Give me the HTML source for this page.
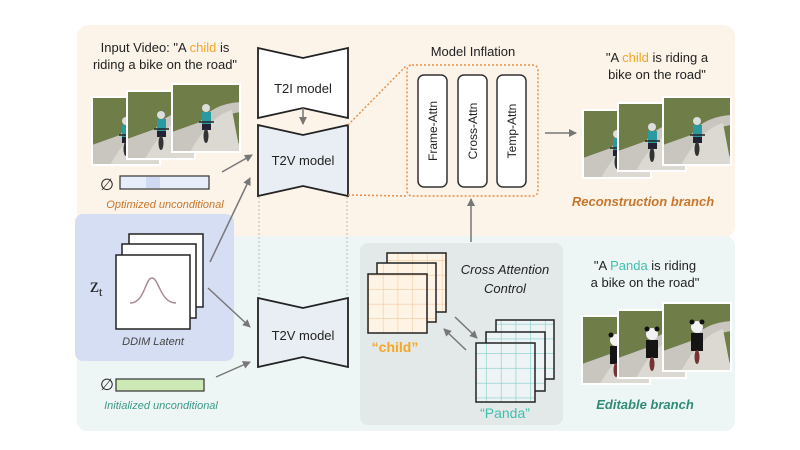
<!DOCTYPE html>
<html><head><meta charset="utf-8"><style>
html,body{margin:0;padding:0;background:#fff;}
svg{display:block;font-family:"Liberation Sans",sans-serif;}
</style></head><body>
<svg width="800" height="450" viewBox="0 0 800 450" xmlns="http://www.w3.org/2000/svg">
<defs>
<marker id="ar" markerWidth="8" markerHeight="8" refX="7" refY="4" orient="auto" markerUnits="userSpaceOnUse">
<path d="M0,0 L8,4 L0,8 Z" fill="#777"/></marker>
<g id="kid">
<rect x="0" y="0" width="68" height="68" fill="#c9c6bf"/>
<path d="M0,0 H68 V18 Q40,20 28,38 L0,48 Z" fill="#6f7d48"/>
<path d="M58,30 L68,28 V60 L60,55 Z" fill="#6f7d48"/>
<path d="M18,68 Q38,32 60,26 L68,68 Z" fill="#dcd9d3"/>
<circle cx="34" cy="24" r="4" fill="#ddd"/>
<rect x="30" y="28" width="9" height="12" fill="#2a9aa0"/>
<rect x="30" y="40" width="9" height="6" fill="#223"/>
<ellipse cx="34" cy="52" rx="2.5" ry="7" fill="#333"/>
<line x1="27" y1="38" x2="42" y2="38" stroke="#222" stroke-width="1.5"/>
<rect x="0" y="0" width="68" height="68" fill="none" stroke="#fff" stroke-width="2"/>
</g>
<g id="panda">
<rect x="0" y="0" width="68" height="68" fill="#c9c6bf"/>
<path d="M0,0 H68 V18 Q40,20 28,38 L0,48 Z" fill="#6f7d48"/>
<path d="M58,30 L68,28 V60 L60,55 Z" fill="#6f7d48"/>
<path d="M18,68 Q38,32 60,26 L68,68 Z" fill="#dcd9d3"/>
<circle cx="34" cy="24" r="6" fill="#f2f2f2"/>
<circle cx="29" cy="19" r="2.5" fill="#111"/><circle cx="39" cy="19" r="2.5" fill="#111"/>
<rect x="28" y="30" width="12" height="18" fill="#151515"/>
<ellipse cx="34" cy="54" rx="2.5" ry="7" fill="#733"/>
<rect x="0" y="0" width="68" height="68" fill="none" stroke="#fff" stroke-width="2"/>
</g>
<pattern id="gc" width="14.75" height="14.5" patternUnits="userSpaceOnUse"><rect width="14.75" height="14.5" fill="#fdf4e6"/><path d="M14.75,0 V14.5 M0,14.5 H14.75" stroke="#f7c9a0" stroke-width="1.2"/></pattern>
<pattern id="gp" width="14.75" height="14.75" patternUnits="userSpaceOnUse"><rect width="14.75" height="14.75" fill="#eef3f6"/><path d="M14.75,0 V14.75 M0,14.75 H14.75" stroke="#7fcfc8" stroke-width="1.2"/></pattern>
</defs>

<rect x="77" y="25" width="658" height="213" rx="12" fill="#fcf3e9"/>
<rect x="77" y="236" width="658" height="195" rx="10" fill="#eef5f5"/>
<rect x="75" y="214" width="159" height="147" rx="8" fill="#d6def3"/>
<rect x="360" y="243" width="203" height="182" rx="8" fill="#e3e8e8"/>

<text x="165" y="52" font-size="13" text-anchor="middle" fill="#222">Input Video: "A <tspan fill="#f5a623">child</tspan> is</text>
<text x="165" y="69" font-size="13" text-anchor="middle" fill="#222">riding a bike on the road"</text>

<use href="#kid" x="92" y="97"/>
<use href="#kid" x="127" y="91"/>
<use href="#kid" x="172" y="84"/>

<text x="100" y="190" font-size="16" fill="#222">∅</text>
<rect x="120" y="176" width="89" height="13" fill="#e8eef9" stroke="#333" stroke-width="1.2"/>
<rect x="146" y="177" width="14" height="11" fill="#cfdaf2"/>
<text x="165" y="208" font-size="11" font-style="italic" text-anchor="middle" fill="#c9762c">Optimized unconditional</text>

<rect x="129" y="234" width="74" height="73" fill="#fff" stroke="#222" stroke-width="1.5"/>
<rect x="122" y="244" width="74" height="74" fill="#fff" stroke="#222" stroke-width="1.5"/>
<rect x="116" y="255" width="74" height="74" fill="#fff" stroke="#222" stroke-width="1.5"/>
<path d="M130,303 C145,303 145,278 152,278 C159,278 160,303 176,303" fill="none" stroke="#a88a95" stroke-width="1.5"/>
<text x="90" y="292" font-size="20" font-family="Liberation Serif,serif" fill="#222">z<tspan font-size="13" dy="4">t</tspan></text>
<text x="153" y="345" font-size="11" font-style="italic" text-anchor="middle" fill="#444">DDIM Latent</text>

<text x="100" y="390" font-size="16" fill="#222">∅</text>
<rect x="116" y="379" width="88" height="12" fill="#cde9b5" stroke="#333" stroke-width="1.2"/>
<text x="161" y="409" font-size="11" font-style="italic" text-anchor="middle" fill="#3a9a88">Initialized unconditional</text>

<path d="M258,48 L303,58 L348,48 L348,118 L303,108 L258,118 Z" fill="#fff" stroke="#222" stroke-width="1.8"/>
<text x="303" y="93" font-size="13" text-anchor="middle" fill="#222">T2I model</text>
<line x1="303" y1="108" x2="303" y2="124" stroke="#777" stroke-width="1.5" marker-end="url(#ar)"/>
<path d="M258,125 L303,135 L348,125 L348,196 L303,186 L258,196 Z" fill="#e9eef5" stroke="#222" stroke-width="1.8"/>
<text x="303" y="165" font-size="13" text-anchor="middle" fill="#222">T2V model</text>
<path d="M258,298 L303,308 L348,298 L348,367 L303,357 L258,367 Z" fill="#e9eef5" stroke="#222" stroke-width="1.8"/>
<text x="303" y="340" font-size="13" text-anchor="middle" fill="#222">T2V model</text>
<line x1="259" y1="197" x2="259" y2="297" stroke="#bbb" stroke-width="1" stroke-dasharray="2,2"/>
<line x1="347" y1="197" x2="347" y2="297" stroke="#bbb" stroke-width="1" stroke-dasharray="2,2"/>

<line x1="222" y1="172" x2="252" y2="155" stroke="#777" stroke-width="1.5" marker-end="url(#ar)"/>
<line x1="210" y1="262" x2="250" y2="178" stroke="#777" stroke-width="1.5" marker-end="url(#ar)"/>
<line x1="208" y1="288" x2="250" y2="327" stroke="#777" stroke-width="1.5" marker-end="url(#ar)"/>
<line x1="216" y1="377" x2="250" y2="362" stroke="#777" stroke-width="1.5" marker-end="url(#ar)"/>

<line x1="348" y1="125" x2="407" y2="65" stroke="#e8914a" stroke-width="1.5" stroke-dasharray="2,2"/>
<line x1="348" y1="195" x2="407" y2="196" stroke="#e8914a" stroke-width="1.5" stroke-dasharray="2,2"/>
<rect x="407" y="65" width="131" height="131" rx="5" fill="none" stroke="#e8914a" stroke-width="1.5" stroke-dasharray="2,2"/>
<text x="473" y="56" font-size="13" text-anchor="middle" fill="#222">Model Inflation</text>
<rect x="418" y="75" width="29" height="112" rx="6" fill="#fff" stroke="#333" stroke-width="1.5"/>
<rect x="458" y="75" width="29" height="112" rx="6" fill="#fff" stroke="#333" stroke-width="1.5"/>
<rect x="497" y="75" width="29" height="112" rx="6" fill="#fff" stroke="#333" stroke-width="1.5"/>
<text transform="translate(437,131) rotate(-90)" font-size="12" text-anchor="middle" fill="#222">Frame-Attn</text>
<text transform="translate(477,131) rotate(-90)" font-size="12" text-anchor="middle" fill="#222">Cross-Attn</text>
<text transform="translate(516,131) rotate(-90)" font-size="12" text-anchor="middle" fill="#222">Temp-Attn</text>
<line x1="545" y1="133" x2="576" y2="133" stroke="#777" stroke-width="1.5" marker-end="url(#ar)"/>
<line x1="471" y1="242" x2="471" y2="199" stroke="#777" stroke-width="1.5" marker-end="url(#ar)"/>

<text x="657" y="62" font-size="13" text-anchor="middle" fill="#222">"A <tspan fill="#f5a623">child</tspan> is riding a</text>
<text x="657" y="79" font-size="13" text-anchor="middle" fill="#222">bike on the road"</text>
<use href="#kid" x="583" y="110"/>
<use href="#kid" x="618" y="103"/>
<use href="#kid" x="663" y="97"/>
<text x="643" y="206" font-size="13" font-weight="bold" font-style="italic" text-anchor="middle" fill="#c9762c">Reconstruction branch</text>

<rect x="387" y="253" width="59" height="59" fill="url(#gc)" stroke="#222" stroke-width="1.5"/>
<rect x="377" y="263" width="59" height="59" fill="url(#gc)" stroke="#222" stroke-width="1.5"/>
<rect x="368" y="274" width="59" height="59" fill="url(#gc)" stroke="#222" stroke-width="1.5"/>
<text x="395" y="352" font-size="14" font-weight="bold" text-anchor="middle" fill="#f5a623">“child”</text>
<text x="505" y="274" font-size="13" font-style="italic" text-anchor="middle" fill="#222">Cross Attention</text>
<text x="505" y="293" font-size="13" font-style="italic" text-anchor="middle" fill="#222">Control</text>
<line x1="455" y1="317" x2="477" y2="338" stroke="#777" stroke-width="1.5" marker-end="url(#ar)"/>
<line x1="466" y1="350" x2="444" y2="329" stroke="#777" stroke-width="1.5" marker-end="url(#ar)"/>
<rect x="496" y="320" width="58" height="59" fill="url(#gp)" stroke="#222" stroke-width="1.5"/>
<rect x="486" y="332" width="59" height="59" fill="url(#gp)" stroke="#222" stroke-width="1.5"/>
<rect x="476" y="343" width="59" height="59" fill="url(#gp)" stroke="#222" stroke-width="1.5"/>
<text x="505" y="418" font-size="14" text-anchor="middle" fill="#3fbfae">“Panda”</text>

<text x="645" y="270" font-size="13" text-anchor="middle" fill="#222">"A <tspan fill="#3fbfae">Panda</tspan> is riding</text>
<text x="645" y="287" font-size="13" text-anchor="middle" fill="#222">a bike on the road"</text>
<use href="#panda" x="582" y="316"/>
<use href="#panda" x="618" y="310"/>
<use href="#panda" x="663" y="303"/>
<text x="645" y="409" font-size="13" font-weight="bold" font-style="italic" text-anchor="middle" fill="#2f8c78">Editable branch</text>
</svg>
</body></html>
